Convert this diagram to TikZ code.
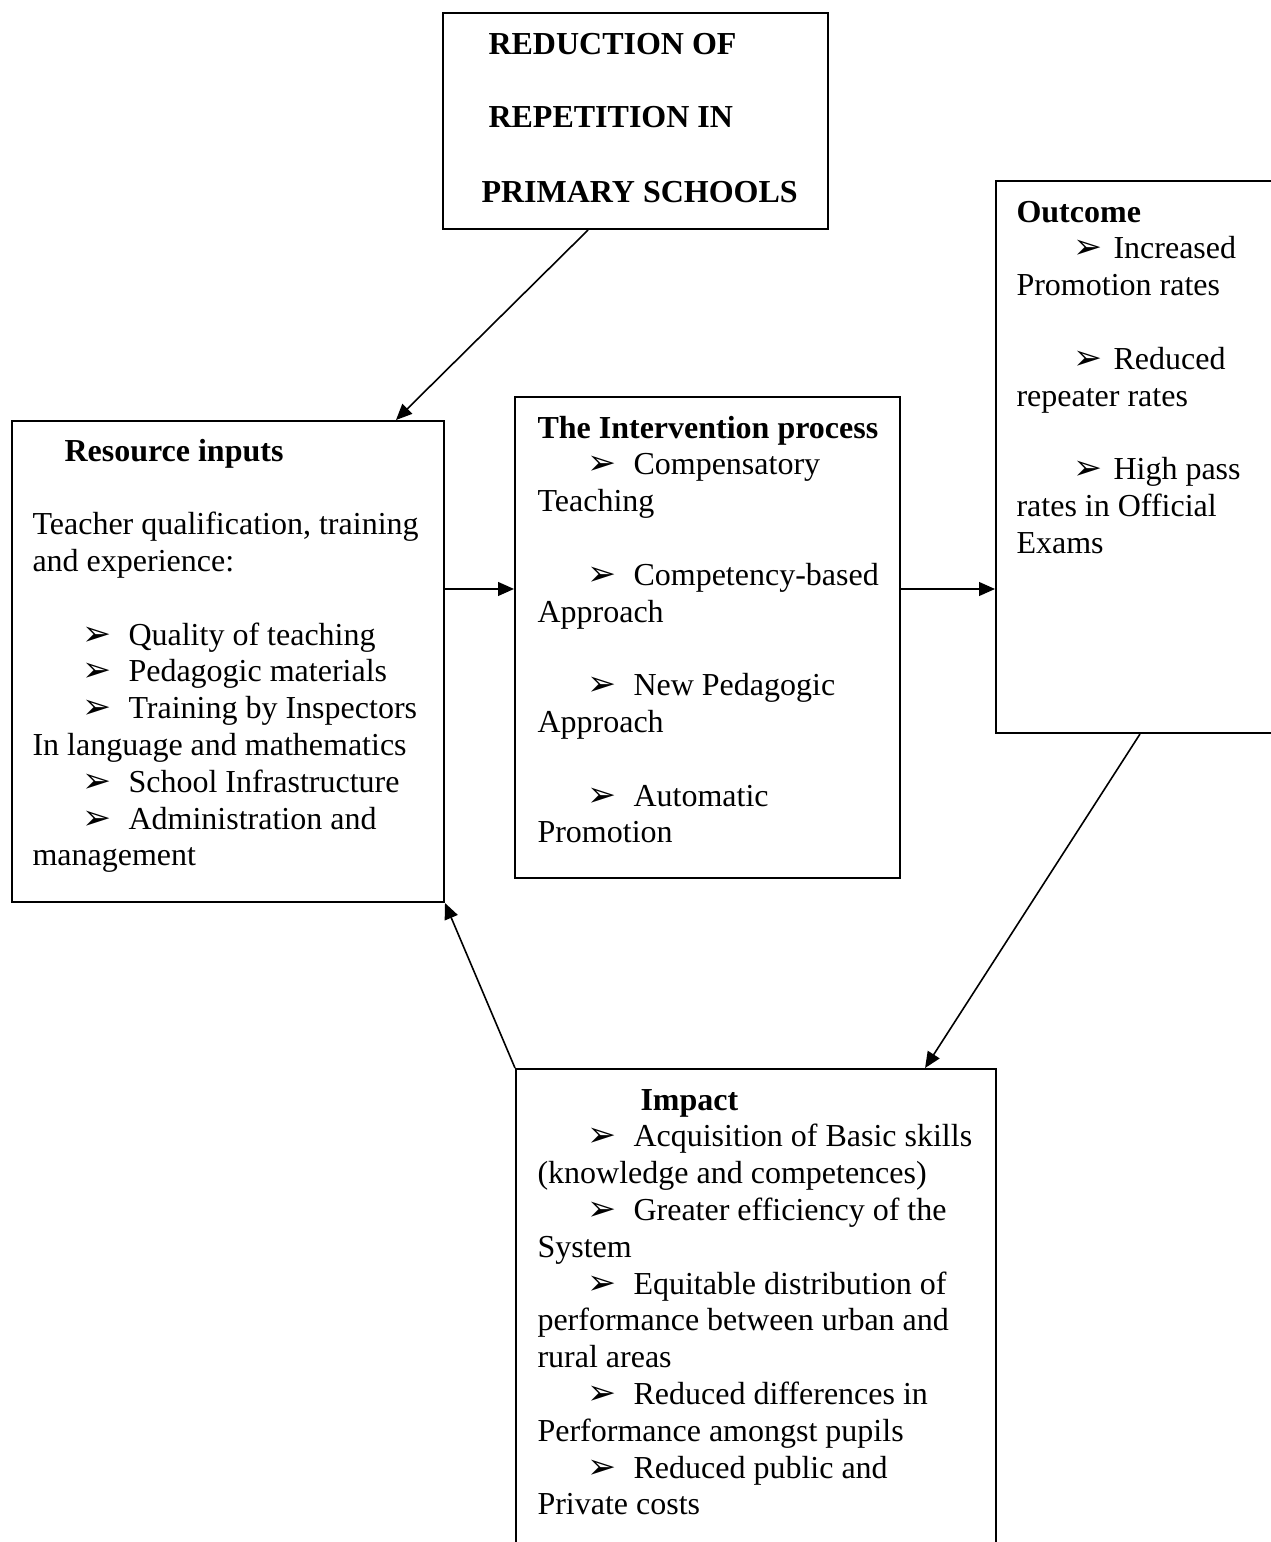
\documentclass[tikz,border=0pt]{standalone}
\usepackage{fontspec}
\setmainfont{Liberation Serif}
\newfontfamily\dingfont{DejaVu Sans}
\usetikzlibrary{arrows.meta,fit}
\newcommand\bul[1][17.4pt]{\llap{\makebox[#1][l]{\dingfont\fontsize{13}{13}\selectfont ➢}}}
\tikzset{
  box/.style={draw,line width=0.75pt,inner sep=0pt},
  txt/.style={anchor=base west,inner sep=0pt,font=\fontsize{12}{13.8}\selectfont},
  title/.style={txt,font=\fontsize{12}{13.8}\selectfont\bfseries},
  conn/.style={->,line width=0.6pt}
}

\begin{document}
\begin{tikzpicture}[x=0.375pt,y=-0.375pt,>={Triangle[length=6pt,width=5.2pt]}]
\useasboundingbox (0,0) rectangle (1271,1542);
% boxes
\node  (top) [box,fit={(443,13) (828,229)}] {};
\node  (res) [box,fit={(12,421) (444,902)}] {};
\node (inter) [box,fit={(515,397) (900,878)}] {};
\node (outc) [box,fit={(996,181) (1284,733)}] {};
\node  (imp) [box,fit={(516,1069) (996,1600)}] {};
% title box
\node (t1) at (488,54)  [title] {REDUCTION OF};
\node (t2) at (488,127) [title] {REPETITION IN};
\node (t3) at (481,202) [title] {PRIMARY SCHOOLS};
% resource inputs
\node  (r0) at (64,461)    [title] {Resource inputs};
\node  (r1) at (32,534.6)  [txt] {Teacher qualification, training};
\node  (r2) at (32,571.4)  [txt] {and experience:};
\node  (r3) at (128,645)   [txt] {\bul Quality of teaching};
\node  (r4) at (128,681.8) [txt] {\bul Pedagogic materials};
\node  (r5) at (128,718.6) [txt] {\bul Training by Inspectors};
\node  (r6) at (32,755.4)  [txt] {In language and mathematics};
\node  (r7) at (128,792.2) [txt] {\bul School Infrastructure};
\node  (r8) at (128,829)   [txt] {\bul Administration and};
\node  (r9) at (32,865.8)  [txt] {management};
% intervention
\node  (i0) at (537,438)   [title] {The Intervention process};
\node  (i1) at (633,474.8) [txt] {\bul Compensatory};
\node  (i2) at (537,511.6) [txt] {Teaching};
\node  (i3) at (633,585.2) [txt] {\bul Competency-based};
\node  (i4) at (537,622)   [txt] {Approach};
\node  (i5) at (633,695.6) [txt] {\bul New Pedagogic};
\node  (i6) at (537,732.4) [txt] {Approach};
\node  (i7) at (633,806)   [txt] {\bul Automatic};
\node  (i8) at (537,842.8) [txt] {Promotion};
% outcome
\node  (o0) at (1016,222)   [title] {Outcome};
\node  (o1) at (1113,258.8) [txt] {\bul[15pt]Increased};
\node  (o2) at (1016,295.6) [txt] {Promotion rates};
\node  (o3) at (1113,369.2) [txt] {\bul[15pt]Reduced};
\node  (o4) at (1016,406)   [txt] {repeater rates};
\node  (o5) at (1113,479.6) [txt] {\bul[15pt]High pass};
\node  (o6) at (1016,516.4) [txt] {rates in Official};
\node  (o7) at (1016,553.2) [txt] {Exams};
% impact
\node  (m0) at (640,1110)    [title] {Impact};
\node  (m1) at (633,1146.8)  [txt] {\bul Acquisition of Basic skills};
\node  (m2) at (537,1183.6)  [txt] {(knowledge and competences)};
\node  (m3) at (633,1220.4)  [txt] {\bul Greater efficiency of the};
\node  (m4) at (537,1257.2)  [txt] {System};
\node  (m5) at (633,1294)    [txt] {\bul Equitable distribution of};
\node  (m6) at (537,1330.8)  [txt] {performance between urban and};
\node  (m7) at (537,1367.6)  [txt] {rural areas};
\node  (m8) at (633,1404.4)  [txt] {\bul Reduced differences in};
\node  (m9) at (537,1441.2)  [txt] {Performance amongst pupils};
\node (m10) at (633,1478)    [txt] {\bul Reduced public and};
\node (m11) at (537,1514.8)  [txt] {Private costs};
% connectors
\draw [conn] ([xshift=-17.8pt]top.south) -- ([xshift=63pt]res.north);
\draw [conn] ([yshift=27.2pt]res.east) -- ([yshift=18.2pt]inter.west);
\draw [conn] ([yshift=18.2pt]inter.east) -- ([yshift=-49.5pt]outc.west);
\draw [conn] (outc.south) -- ([xshift=63.4pt]imp.north);
\draw [conn] (imp.north west) -- (res.south east);
\end{tikzpicture}
\end{document}
